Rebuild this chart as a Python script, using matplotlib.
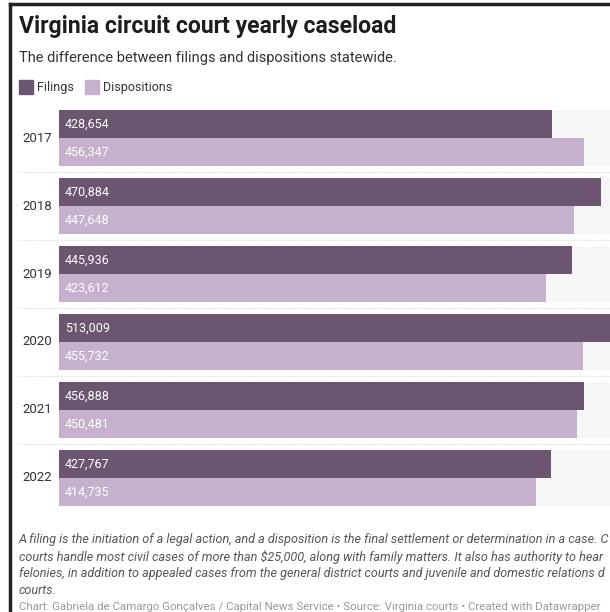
import matplotlib
matplotlib.use('Agg')
import matplotlib.pyplot as plt
import numpy as np

plt.rcParams['font.family'] = ['Roboto', 'DejaVu Sans']

years = ['2017', '2018', '2019', '2020', '2021', '2022']
filings = [428654, 470884, 445936, 513009, 456888, 427767]
dispositions = [456347, 447648, 423612, 455732, 450481, 414735]

c_fil = '#6b5570'
c_dis = '#c5b0cd'
c_bg = '#f6f6f6'

W, H = 610, 612
fig = plt.figure(figsize=(W / 100, H / 100), dpi=100)
fig.patch.set_facecolor('white')

def px(x, y):
  # pixel coords (top-left origin) -> figure fraction
  return x / W, 1 - y / H

# axes: x 59..649 px (right side cropped in the reference), y 110..506 px
x0, x1 = 59, 649
y0, y1 = 110, 506
ax = fig.add_axes([x0 / W, 1 - y1 / H, (x1 - x0) / W, (y1 - y0) / H])
vmax = max(filings + dispositions)
ax.set_xlim(0, vmax)
ax.set_ylim(len(years) - 1 + 0.412, -0.412)
ax.axis('off')

pos = np.arange(len(years))
bh = 0.412
ax.barh(pos, [vmax] * len(years), height=2 * bh, color=c_bg, zorder=1)
ax.barh(pos - bh / 2, filings, height=bh, color=c_fil, zorder=2)
ax.barh(pos + bh / 2, dispositions, height=bh, color=c_dis, zorder=2)

for i in range(len(years) - 1):
  ax.plot([-0.068 * vmax, vmax], [i + 0.5, i + 0.5], ls=(0, (1, 1)), lw=0.8,
          color='#dddddd', clip_on=False, zorder=0)

for i, y in enumerate(years):
  ax.text(-6000, i, y, ha='right', va='center', fontsize=9.5, color='#333333')
  ax.text(5000, i - bh / 2, f'{filings[i]:,}', ha='left', va='center',
          fontsize=9, color='white', zorder=3)
  ax.text(5000, i + bh / 2, f'{dispositions[i]:,}', ha='left', va='center',
          fontsize=9, color='white', zorder=3)

# titles
fig.text(*px(19, 26), 'Virginia circuit court yearly caseload', fontsize=16.6,
         fontweight='bold', color='#1d1d1d', va='center', ha='left')
fig.text(*px(19, 58), 'The difference between filings and dispositions statewide.',
         fontsize=10.5, color='#333333', va='center', ha='left')

# legend
fig.patches.append(plt.Rectangle(px(19, 94), 14 / W, 14 / H, color=c_fil,
                                 transform=fig.transFigure))
fig.text(*px(37, 87), 'Filings', fontsize=9, color='#333333', va='center')
fig.patches.append(plt.Rectangle(px(85, 94), 14 / W, 14 / H, color=c_dis,
                                 transform=fig.transFigure))
fig.text(*px(103, 87), 'Dispositions', fontsize=9, color='#333333', va='center')

# notes (cropped at the right edge as in the reference)
notes = [
  'A filing is the initiation of a legal action, and a disposition is the final settlement or determination in a case. C',
  'courts handle most civil cases of more than $25,000, along with family matters. It also has authority to hear',
  'felonies, in addition to appealed cases from the general district courts and juvenile and domestic relations d',
  'courts.',
]
for k, line in enumerate(notes):
  fig.text(*px(19, 540 + 16.7 * k), line, fontsize=9.1, style='italic',
           color='#555555', va='center', ha='left')
fig.text(*px(19, 607), 'Chart: Gabriela de Camargo Gonçalves / Capital News Service • '
         'Source: Virginia courts • Created with Datawrapper',
         fontsize=8.25, color='#9a9a9a', va='center', ha='left')

# screenshot frame on top and left
fig.add_artist(plt.Line2D([10 / W, 1], [1 - 3.5 / H, 1 - 3.5 / H], color='#222222', lw=2.5))
fig.add_artist(plt.Line2D([10 / W, 10 / W], [0, 1 - 3.5 / H], color='#222222', lw=2.5))

fig.savefig('out.png', dpi=100)
